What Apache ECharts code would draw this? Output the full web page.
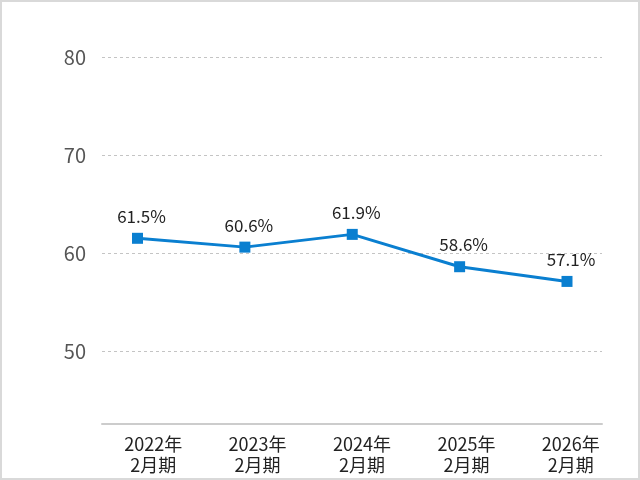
<!DOCTYPE html>
<html>
<head>
<meta charset="utf-8">
<script src="https://cdn.jsdelivr.net/npm/echarts@6/dist/echarts.min.js"></script>
<style>
  html, body { margin: 0; padding: 0; background: #fff; }
  #chart { width: 640px; height: 480px; }
</style>
</head>
<body>
<div id="chart"></div>
<script>
// 期ごとのカテゴリ
const categories = ['2022年\n2月期', '2023年\n2月期', '2024年\n2月期', '2025年\n2月期', '2026年\n2月期'];
// 比率 (%)
const ratioValues = [61.5, 60.6, 61.9, 58.6, 57.1];
// y軸の目盛り
const yMin = 50, yMax = 80, yStep = 10;

const blue = '#0a7fd0';
const font = '"Noto Sans CJK JP", "Noto Sans", sans-serif';

const chart = echarts.init(document.getElementById('chart'));

chart.setOption({
    animation: false,
    backgroundColor: '#fff',
    graphic: [{
        type: 'rect',
        shape: { x: 1, y: 1, width: 638, height: 478 },
        style: { fill: 'none', stroke: '#d9d9d9', lineWidth: 2 },
        z: 100
    }],
    grid: [
        // 軸線用
        { left: 102, right: 38, top: 57, bottom: 56 },
        // y目盛りと補助線
        { left: 102, right: 38, top: 57, height: 294 },
        // 折れ線
        { left: 137.5, right: 73, top: 57, height: 294 },
        // x軸ラベル
        { left: 101, right: 17, top: 57, bottom: 56 }
    ],
    xAxis: [
        {
            gridIndex: 0, type: 'category', data: categories,
            axisLine: { show: true, lineStyle: { color: '#cccccc', width: 2 } },
            axisTick: { show: false }, axisLabel: { show: false }
        },
        { gridIndex: 1, type: 'category', data: categories, show: false },
        { gridIndex: 2, type: 'category', data: categories, boundaryGap: false, show: false },
        {
            gridIndex: 3, type: 'category', data: categories,
            axisLine: { show: false }, axisTick: { show: false },
            axisLabel: {
                margin: 10, color: '#222', fontSize: 18, lineHeight: 21,
                fontFamily: font, interval: 0
            }
        }
    ],
    yAxis: [
        { gridIndex: 0, type: 'value', min: 42.5, max: yMax, show: false },
        {
            gridIndex: 1, type: 'value', min: yMin, max: yMax, interval: yStep,
            axisLine: { show: false }, axisTick: { show: false },
            axisLabel: { margin: 16, color: '#555', fontSize: 20, fontFamily: font },
            splitLine: { lineStyle: { color: '#c4c4c4', type: [3, 3], width: 1 } }
        },
        { gridIndex: 2, type: 'value', min: yMin, max: yMax, show: false },
        { gridIndex: 3, type: 'value', min: 42.5, max: yMax, show: false }
    ],
    series: [{
        type: 'line',
        xAxisIndex: 2,
        yAxisIndex: 2,
        data: ratioValues,
        symbol: 'rect',
        symbolSize: 11,
        lineStyle: { color: blue, width: 3 },
        itemStyle: { color: blue },
        label: {
            show: true,
            position: 'top',
            distance: 8,
            offset: [4, 0],
            color: '#222',
            fontSize: 17,
            fontFamily: font,
            formatter: p => p.value.toFixed(1) + '%'
        }
    }]
});
</script>
</body>
</html>
